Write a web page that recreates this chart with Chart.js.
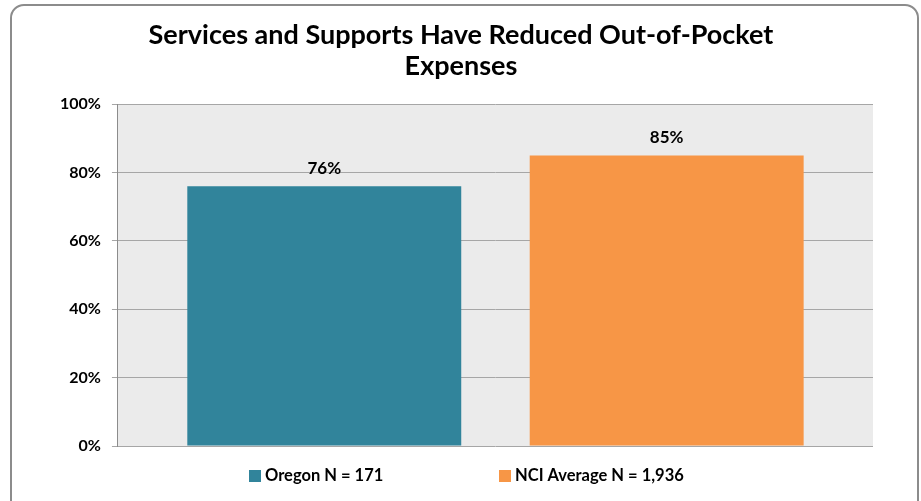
<!DOCTYPE html>
<html>
<head>
<meta charset="utf-8">
<script src="https://cdn.jsdelivr.net/npm/chart.js@4.4.1/dist/chart.umd.min.js"></script>
<style>
    html, body { margin: 0; padding: 0; background: #fff; }
    #wrap { position: relative; width: 921px; height: 501px; }
    #frame {
        position: absolute; left: 10px; top: 4px; width: 905px; height: 520px;
        border: 2px solid #8c8c8c; border-radius: 14px; pointer-events: none;
    }
</style>
</head>
<body>
<div id="wrap">
    <canvas id="chart" width="921" height="501"></canvas>
    <div id="frame"></div>
</div>
<script>
// ==========================================
// Out-of-pocket expenses chart
// ==========================================

const titleLines = ['Services and Supports Have Reduced Out-of-Pocket', 'Expenses'];
const seriesLabels = ['Oregon N = 171', 'NCI Average N = 1,936'];
const seriesValues = [76, 85];
const seriesColors = ['#31849b', '#f79646'];
const yTicks = [0, 20, 40, 60, 80, 100];

const FONT = "Lato, 'Open Sans', sans-serif";

// grey plot background
const plotBackground = {
    id: 'plotBackground',
    beforeDraw(chart) {
        const { ctx, chartArea: a } = chart;
        ctx.save();
        ctx.fillStyle = '#ebebeb';
        ctx.fillRect(a.left, a.top, a.right - a.left, a.bottom - a.top);
        ctx.restore();
    }
};

// value labels above the bars
const valueLabels = {
    id: 'valueLabels',
    afterDatasetsDraw(chart) {
        const { ctx } = chart;
        ctx.save();
        ctx.font = `bold 17px ${FONT}`;
        ctx.fillStyle = '#000';
        ctx.textAlign = 'center';
        ctx.textBaseline = 'middle';
        chart.data.datasets.forEach((ds, i) => {
            chart.getDatasetMeta(i).data.forEach((bar, j) => {
                ctx.fillText(ds.data[j] + '%', bar.x, bar.y - 18);
            });
        });
        ctx.restore();
    }
};

// legend drawn by hand so the items can sit far apart
const bottomLegend = {
    id: 'bottomLegend',
    afterDraw(chart) {
        const { ctx } = chart;
        const xs = [249, 499];
        const y = 476;
        ctx.save();
        ctx.font = `bold 16.5px ${FONT}`;
        ctx.textBaseline = 'middle';
        ctx.textAlign = 'left';
        chart.data.datasets.forEach((ds, i) => {
            ctx.fillStyle = ds.backgroundColor;
            ctx.fillRect(xs[i], y - 6, 12, 12);
            ctx.fillStyle = '#000';
            ctx.fillText(ds.label, xs[i] + 16, y);
        });
        ctx.restore();
    }
};

function initChart() {
    const ctx = document.getElementById('chart');

    new Chart(ctx, {
        type: 'bar',
        data: {
            labels: [''],
            datasets: seriesLabels.map((label, i) => ({
                label: label,
                data: [seriesValues[i]],
                backgroundColor: seriesColors[i],
                borderWidth: 0,
                categoryPercentage: 0.907,
                barPercentage: 0.8,
            }))
        },
        options: {
            responsive: false,
            animation: false,
            layout: { padding: { left: 49, right: 48, top: 0, bottom: 55 } },
            plugins: {
                legend: { display: false },
                tooltip: { enabled: false },
                title: {
                    display: true,
                    text: titleLines,
                    color: '#000',
                    font: { family: FONT, size: 27, weight: 'bold', lineHeight: 1.15 },
                    padding: { top: 19.5, bottom: 22.5 }
                }
            },
            scales: {
                x: {
                    display: false
                },
                y: {
                    min: 0,
                    max: 100,
                    afterBuildTicks: (axis) => { axis.ticks = yTicks.map(v => ({ value: v })); },
                    grid: { color: '#a6a6a6', tickLength: 6, lineWidth: 1 },
                    border: { color: '#8c8c8c' },
                    ticks: {
                        color: '#000',
                        padding: 11,
                        font: { family: FONT, size: 16, weight: 'bold' },
                        callback: (v) => v + '%'
                    }
                }
            }
        },
        plugins: [plotBackground, valueLabels, bottomLegend]
    });
}

document.addEventListener('DOMContentLoaded', initChart);
</script>
</body>
</html>
